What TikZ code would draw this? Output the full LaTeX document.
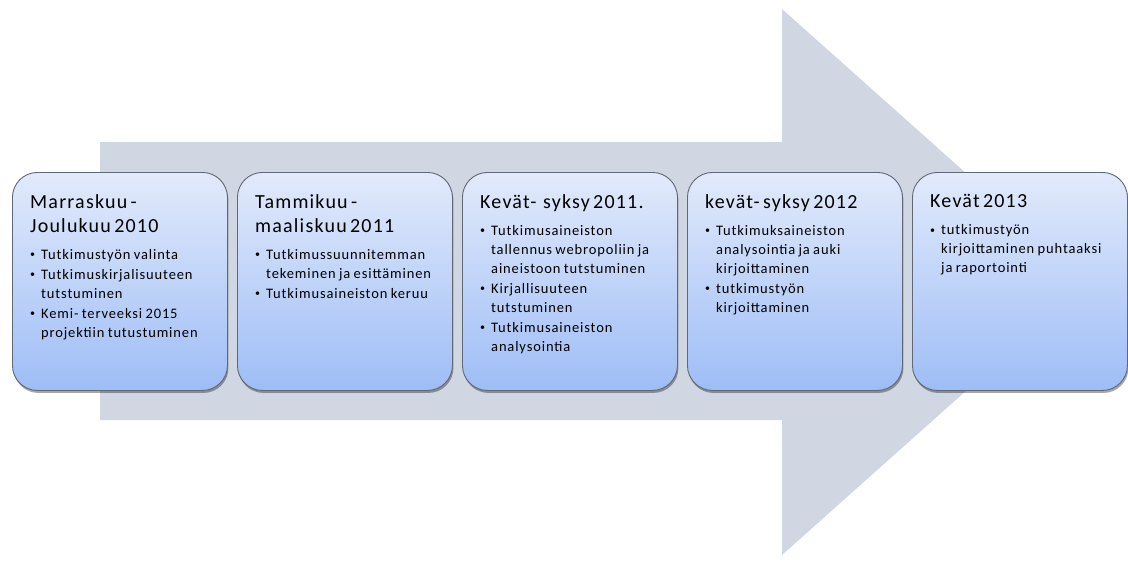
\documentclass[tikz,border=0pt]{standalone}
\usepackage{fontspec}
\setmainfont{Carlito}[LetterSpace=6]
\usetikzlibrary{shadows}

\definecolor{arrowgray}{RGB}{208,215,227}
\definecolor{boxtop}{RGB}{226,234,251}
\definecolor{boxbot}{RGB}{158,189,246}
\definecolor{boxline}{RGB}{96,104,118}

% heading of a phase and one bullet point under it
\newcommand\phasehead[1]{{\fontsize{20}{24}\selectfont #1\par}\vspace{8pt}}
\newcommand\phasebullet{\makebox[11pt][l]{\raisebox{1.2pt}{\fontsize{10}{10}\selectfont •}}}
\newcommand\phaseitem[1]{{\fontsize{14.5}{19}\selectfont\hangindent=11pt\hangafter=1\noindent\phasebullet#1\par}\vspace{1pt}}

\tikzset{
  phasebox/.style={rectangle, rounded corners=25pt, draw=boxline, line width=0.9pt,
    top color=boxtop, bottom color=boxbot, minimum width=215pt, minimum height=218pt,
    inner sep=0pt, anchor=north west,
    drop shadow={shadow xshift=1pt, shadow yshift=-2.5pt, opacity=0.35, fill=black}},
  phasetext/.style={anchor=north west, inner sep=0pt, text width=196pt, align=left}
}

\begin{document}
\begin{tikzpicture}[x=1pt, y=-1pt]
  \useasboundingbox (0,0) rectangle (1128,560);

  % large background arrow
  \fill[arrowgray] (100,142) -- (782,142) -- (782,9) -- (1088,282)
    -- (782,555) -- (782,420) -- (100,420) -- cycle;

  % the five phases
  \node[phasebox] (b1) at (12,172) {};
  \node[phasebox] (b2) at (237,172) {};
  \node[phasebox] (b3) at (462,172) {};
  \node[phasebox] (b4) at (687,172) {};
  \node[phasebox] (b5) at (912,172) {};

  \node[phasetext] (t1) at ([shift={(18pt,-22pt)}]b1.north west) {%
    \phasehead{Marraskuu -\newline Joulukuu 2010}%
    \phaseitem{Tutkimustyön valinta}%
    \phaseitem{Tutkimuskirjalisuuteen\newline tutstuminen}%
    \phaseitem{Kemi- terveeksi 2015\newline projektiin tutustuminen}};

  \node[phasetext] (t2) at ([shift={(18pt,-22pt)}]b2.north west) {%
    \phasehead{Tammikuu -\newline maaliskuu 2011}%
    \phaseitem{Tutkimussuunnitemman\newline tekeminen ja esittäminen}%
    \phaseitem{Tutkimusaineiston keruu}};

  \node[phasetext] (t3) at ([shift={(18pt,-22pt)}]b3.north west) {%
    \phasehead{Kevät-~ syksy 2011.}%
    \phaseitem{Tutkimusaineiston\newline tallennus webropoliin ja\newline aineistoon tutstuminen}%
    \phaseitem{Kirjallisuuteen\newline tutstuminen}%
    \phaseitem{Tutkimusaineiston\newline analysointia}};

  \node[phasetext] (t4) at ([shift={(18pt,-22pt)}]b4.north west) {%
    \phasehead{kevät- syksy 2012}%
    \phaseitem{Tutkimuksaineiston\newline analysointia ja auki\newline kirjoittaminen}%
    \phaseitem{tutkimustyön\newline kirjoittaminen}};

  \node[phasetext] (t5) at ([shift={(18pt,-22pt)}]b5.north west) {%
    \phasehead{Kevät 2013}%
    \phaseitem{tutkimustyön\newline kirjoittaminen puhtaaksi\newline ja raportointi}};
\end{tikzpicture}
\end{document}
